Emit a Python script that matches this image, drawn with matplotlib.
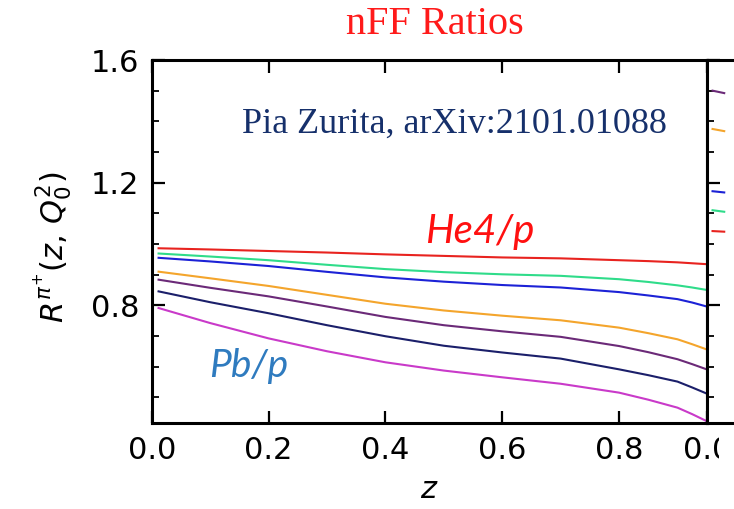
import matplotlib
matplotlib.use("Agg")
import matplotlib.pyplot as plt
from matplotlib.ticker import MultipleLocator
from matplotlib.transforms import Bbox

# momentum fraction grid
z = [0.01, 0.1, 0.2, 0.3, 0.4, 0.5, 0.6, 0.7, 0.8, 0.85, 0.9, 0.925, 0.95]

# nuclear / proton fragmentation-function ratios, light to heavy nuclei
r_red = [0.986, 0.982, 0.977, 0.972, 0.966, 0.961, 0.956, 0.953, 0.947, 0.944, 0.940, 0.937, 0.934]
r_green = [0.969, 0.959, 0.947, 0.932, 0.918, 0.908, 0.901, 0.896, 0.885, 0.876, 0.865, 0.858, 0.850]
r_blue = [0.955, 0.943, 0.928, 0.909, 0.891, 0.877, 0.866, 0.858, 0.843, 0.832, 0.820, 0.809, 0.796]
r_orange = [0.910, 0.888, 0.863, 0.834, 0.805, 0.783, 0.766, 0.751, 0.727, 0.709, 0.689, 0.673, 0.656]
r_purple = [0.884, 0.857, 0.829, 0.796, 0.762, 0.735, 0.715, 0.697, 0.667, 0.647, 0.624, 0.608, 0.591]
r_navy = [0.846, 0.810, 0.774, 0.735, 0.699, 0.668, 0.646, 0.626, 0.591, 0.572, 0.551, 0.532, 0.512]
r_magenta = [0.792, 0.742, 0.692, 0.650, 0.614, 0.587, 0.565, 0.544, 0.515, 0.492, 0.466, 0.445, 0.422]

# start of the neighbouring panel
z2 = [0.01, 0.03]
r2_red = [1.042, 1.040]
r2_green = [1.110, 1.105]
r2_blue = [1.172, 1.168]
r2_orange = [1.375, 1.368]
r2_purple = [1.500, 1.492]
r2_navy = [1.600, 1.610]

colors = ["#e8231f", "#2fdc8a", "#1c22d6", "#f4a52c", "#6b2a78", "#1b1f6a", "#c93ac9"]
series = [r_red, r_green, r_blue, r_orange, r_purple, r_navy, r_magenta]
series2 = [r2_red, r2_green, r2_blue, r2_orange, r2_purple, r2_navy]

xticks = [0.0, 0.2, 0.4, 0.6, 0.8]
xticklabels = ["0.0", "0.2", "0.4", "0.6", "0.8"]
yticks = [0.8, 1.2, 1.6]
yticklabels = ["0.8", "1.2", "1.6"]

W, H = 734, 509
fig = plt.figure(figsize=(W / 100, H / 100), dpi=100)


def fx(px):
    return px / W


def fy(py):
    return 1 - py / H


left, right, top, bottom = 151.7, 706.7, 60.0, 423.3
pos = [fx(left), fy(bottom), fx(right) - fx(left), fy(top) - fy(bottom)]

ax = fig.add_axes(pos)
ax2 = fig.add_axes([fx(right), pos[1], pos[2], pos[3]])

for a in (ax, ax2):
    for s in a.spines.values():
        s.set_linewidth(2.2)
    a.set_ylim(0.415, 1.6)
    a.set_xlim(0.0, 0.95)
    a.yaxis.set_minor_locator(MultipleLocator(0.1))
    a.tick_params(which="major", direction="in", length=9, width=1.6,
                  labelsize=22, pad=9, top=True)
    a.tick_params(which="minor", direction="in", length=5, width=1.3)

for y, c in zip(series, colors):
    ax.plot(z, y, color=c, lw=1.5, solid_capstyle="butt")
for y, c in zip(series2, colors):
    ax2.plot(z2, y, color=c, lw=1.5)

ax.set_xticks(xticks)
ax.set_xticklabels(xticklabels)
ax.set_yticks(yticks)
ax.set_yticklabels(yticklabels)
ax.tick_params(right=False, which="both")

ax2.set_xticks([0.0])
ax2.set_xticklabels(["0.0"])
ax2.set_yticks(yticks)
ax2.tick_params(labelleft=False, which="both")
# the neighbouring panel's first label is cut at the figure border
for lab in ax2.get_xticklabels():
    lab.set_clip_box(Bbox.from_extents(0, 0, 719, H))
    lab.set_clip_on(True)

# axis titles
fig.text(fx(53), fy(247), r"$R^{\pi^{+}}(z,\,Q_0^2)$", rotation=90,
         ha="center", va="center", fontsize=22)
fig.text(fx(429), fy(490), r"$z$", ha="center", va="center", fontsize=22)

# headings and annotations
fig.text(fx(435), fy(25), "nFF Ratios", color="#ff1a1a", ha="center",
         va="center", fontsize=29, family="Liberation Serif")
fig.text(fx(454), fy(133), "Pia Zurita, arXiv:2101.01088", color="#16306b",
         ha="center", va="baseline", fontsize=26, family="Liberation Serif")
fig.text(fx(480), fy(243), "He4/p", color="#ff1010", ha="center",
         va="baseline", fontsize=29, family="Lato", style="italic")
fig.text(fx(249), fy(377), "Pb/p", color="#2f7bbf", ha="center",
         va="baseline", fontsize=28, family="Lato", style="italic")

fig.savefig("out.png", dpi=100)
